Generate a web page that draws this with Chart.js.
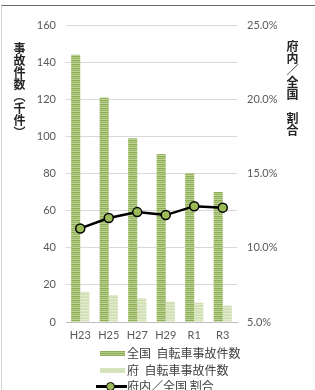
<!DOCTYPE html>
<html>
<head>
<meta charset="utf-8">
<script src="https://cdn.jsdelivr.net/npm/chart.js@4"></script>
<style>
  html, body { margin: 0; padding: 0; background: #fff; }
  #wrap { position: relative; width: 315px; height: 390px; overflow: hidden; }
  #frame { position: absolute; left: 1px; top: 5px; right: 0; bottom: 0;
           border-top: 1px solid #6b6b6b; border-left: 1px solid #d0d0d0; }
  #chartBox { position: absolute; left: 0; top: 0; width: 315px; height: 347px; }
  .ytitle { position: absolute; writing-mode: vertical-rl; text-orientation: upright;
            font-family: "Noto Sans CJK JP", sans-serif; font-size: 12px; font-weight: bold;
            color: #262626; line-height: 14px; }
  #legend { position: absolute; left: 94px; top: 345px;
            font-family: "Noto Sans CJK JP", sans-serif; font-size: 12px; color: #404040; }
  .item { position: relative; height: 16.5px; line-height: 16px; padding-left: 33px; white-space: nowrap; }
  .sw { position: absolute; left: 6px; top: 6px; width: 25px; height: 5px; }
  .ln { position: absolute; left: 2px; top: 7px; width: 31px; height: 3px; background: #000; }
  .dot { position: absolute; left: 12px; top: 4px; width: 7px; height: 7px; border-radius: 50%;
         background: #9bbb59; border: 1.5px solid #000; }
</style>
</head>
<body>
<div id="wrap">
  <div id="frame"></div>
  <div id="chartBox"><canvas id="chartCanvas"></canvas></div>
  <div class="ytitle" style="left:12px; top:42px;">事故件数（千件）</div>
  <div class="ytitle" style="left:285px; top:40px;">府内／全国　割合</div>
  <div id="legend">
    <div class="item"><span class="sw" id="sw1"></span>全国&nbsp;&nbsp;自転車事故件数</div>
    <div class="item"><span class="sw" id="sw2"></span>府&nbsp;&nbsp;自転車事故件数</div>
    <div class="item"><span class="ln"></span><span class="dot"></span>府内／全国 割合</div>
  </div>
</div>
<script>
const labels = ['H23', 'H25', 'H27', 'H29', 'R1', 'R3'];
const zenkoku = [144, 121, 99, 90.5, 80.3, 70];      // 全国 自転車事故件数（千件）
const fu = [16.3, 14.5, 12.8, 11, 10.4, 8.8];        // 府 自転車事故件数（千件）
const ratio = [11.3, 12.0, 12.4, 12.2, 12.8, 12.7];  // 府内／全国 割合（%）

function stripes(colors) {
  const c = document.createElement('canvas');
  c.width = 4;
  c.height = colors.length;
  const g = c.getContext('2d');
  colors.forEach((col, i) => {
    g.fillStyle = col;
    g.fillRect(0, i, 4, 1);
  });
  return g.createPattern(c, 'repeat');
}

const darkFill = stripes(['#8fad57', '#b1cb86', '#9ab763', '#bdd396']);
const lightFill = stripes(['#d0dfb3', '#e1ebcd', '#d6e3bc']);

document.getElementById('sw1').style.background = 'repeating-linear-gradient(#8fad57 0 1px, #b1cb86 1px 2px)';
document.getElementById('sw2').style.background = '#d5e3bc';

const tickFont = { family: 'Lato', size: 11 };

new Chart(document.getElementById('chartCanvas').getContext('2d'), {
  data: {
    labels: labels,
    datasets: [
      {
        type: 'line',
        label: '府内／全国 割合',
        data: ratio,
        yAxisID: 'y2',
        order: 0,
        borderColor: '#000',
        borderWidth: 2.5,
        pointRadius: 4.5,
        pointBorderWidth: 1.5,
        pointBackgroundColor: '#9bbb59',
        pointBorderColor: '#000',
        tension: 0
      },
      {
        type: 'bar',
        label: '全国 自転車事故件数',
        data: zenkoku,
        yAxisID: 'y',
        order: 1,
        backgroundColor: darkFill,
        categoryPercentage: 0.64,
        barPercentage: 1.0
      },
      {
        type: 'bar',
        label: '府 自転車事故件数',
        data: fu,
        yAxisID: 'y',
        order: 1,
        backgroundColor: lightFill,
        categoryPercentage: 0.64,
        barPercentage: 1.0
      }
    ]
  },
  options: {
    responsive: true,
    maintainAspectRatio: false,
    animation: false,
    layout: { padding: { top: 25, left: 0, right: 0, bottom: 0 } },
    plugins: {
      legend: { display: false },
      tooltip: { enabled: false }
    },
    scales: {
      x: {
        grid: { display: false, drawTicks: false },
        border: { color: '#bfbfbf', width: 1 },
        ticks: { color: '#595959', font: tickFont, padding: 7, maxRotation: 0 },
        afterFit: s => { s.height = 25; }
      },
      y: {
        position: 'left',
        min: 0,
        max: 160,
        ticks: { stepSize: 20, color: '#595959', font: tickFont, padding: 10 },
        grid: { color: '#d9d9d9', drawTicks: false },
        border: { display: false },
        afterFit: s => { s.width = 66; }
      },
      y2: {
        position: 'right',
        min: 5,
        max: 25,
        ticks: {
          stepSize: 5,
          color: '#595959',
          font: tickFont,
          padding: 10,
          callback: v => v.toFixed(1) + '%'
        },
        grid: { display: false, drawTicks: false },
        border: { display: false },
        afterFit: s => { s.width = 78; }
      }
    }
  }
});
</script>
</body>
</html>
